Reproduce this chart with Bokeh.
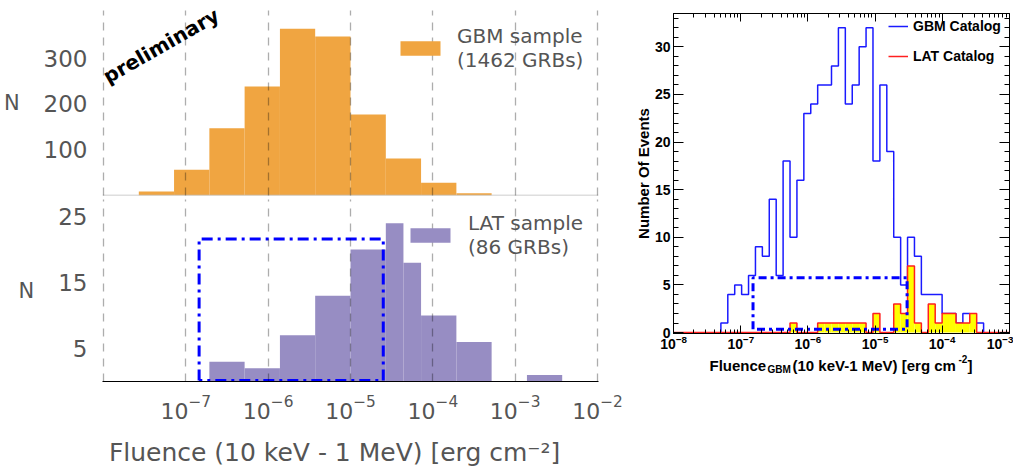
import numpy as np
from bokeh.plotting import figure
from bokeh.layouts import row, column
from bokeh.models import (Range1d, FixedTicker, LinearAxis, LogAxis, Legend, LegendItem,
                          Label, Span, SingleIntervalTicker, CustomJSTickFormatter)
from bokeh.embed import file_html
from bokeh.resources import INLINE

# ---------------- data : left figure ----------------
# log10 bin edges (14 log bins between 1e-8 and 1e-2)
gbm_sample_edges = [-8.0, -7.571, -7.143, -6.714, -6.286, -5.857, -5.429, -5.0,
                    -4.571, -4.143, -3.714, -3.286, -2.857, -2.429, -2.0]
gbm_sample_counts = [0, 9, 56, 147, 238, 364, 347, 177, 81, 28, 5, 0, 0, 0]
lat_sample_edges = [-8.0, -7.571, -7.143, -6.714, -6.286, -5.857, -5.429, -5.0,
                    -4.571, -4.357, -4.143, -3.714, -3.286, -2.857, -2.429, -2.0]
lat_sample_counts = [0, 0, 0, 3, 2, 7, 13, 20, 24, 18, 10, 6, 0, 1, 0]
left_xticks = [1e-7, 1e-6, 1e-5, 1e-4, 1e-3, 1e-2]
left_xgrid = [1e-8, 1e-7, 1e-6, 1e-5, 1e-4, 1e-3, 1e-2]
top_yticks = [100, 200, 300]
bottom_yticks = [5, 15, 25]
box_left_x = [1.45e-7, 2.5e-5]
box_left_y = [0.15, 21.6]

# ---------------- data : right figure ----------------
cat_first_edge = -7.297   # log10 of first bin edge
cat_bin_width = 0.103     # decades per bin
gbm_catalog_counts = [1, 4, 5, 4, 6, 9, 8, 14, 6, 18, 10, 16, 23, 24, 26, 26, 28, 32, 24, 26,
                      30, 32, 18, 26, 19, 10, 5, 10, 8, 4, 4, 4, 2, 2, 1, 2, 1, 1]
lat_catalog_counts = [0, 0, 0, 0, 0, 0, 0, 0, 0, 0, 1, 0, 0, 0, 1, 1, 1, 1, 1, 1,
                      1, 0, 2, 0, 0, 3, 2, 7, 1, 0, 3, 1, 2, 2, 1, 1, 2, 0]
right_xticks = [1e-8, 1e-7, 1e-6, 1e-5, 1e-4, 1e-3]
box_right_x = [1.52e-7, 3.0e-5]
box_right_y = [0.35, 5.75]

ORANGE = "#F0A541"
PURPLE = "#978DC3"
GRAYTXT = "#555555"
FONT = "DejaVu Sans"
RFONT = "Liberation Sans"

xr_left = Range1d(10 ** -8.012, 10 ** -1.988)


def style_left(p, yticks, ylabel):
    p.outline_line_color = None
    p.ygrid.visible = False
    g = p.xgrid[0]
    g.ticker = FixedTicker(ticks=left_xgrid)
    g.grid_line_color = "black"
    g.grid_line_alpha = 0.32
    g.grid_line_dash = "8 7"
    g.grid_line_width = 1.3
    g.level = "overlay"
    ya = p.yaxis[0]
    ya.ticker = FixedTicker(ticks=yticks)
    ya.major_tick_line_color = None
    ya.minor_tick_line_color = None
    ya.axis_line_color = None
    ya.major_label_text_font = FONT
    ya.major_label_text_font_size = "23px"
    ya.major_label_text_color = GRAYTXT
    ya.major_label_standoff = 9
    ya.axis_label = ylabel
    ya.axis_label_text_font = FONT
    ya.axis_label_text_font_style = "normal"
    ya.axis_label_text_font_size = "21px"
    ya.axis_label_text_color = GRAYTXT
    ya.axis_label_standoff = 21
    if "axis_label_orientation" in LinearAxis.properties():
        ya.axis_label_orientation = "horizontal"


# ---------------- top-left panel ----------------
p1 = figure(width=628, height=198, x_axis_type="log", x_range=xr_left,
            y_range=Range1d(0, 404), output_backend="svg", toolbar_location=None,
            min_border_left=100, min_border_right=30, min_border_top=10, min_border_bottom=3)
r_gbm = p1.quad(left=[10 ** e for e in gbm_sample_edges[:-1]],
                right=[10 ** e for e in gbm_sample_edges[1:]],
                bottom=0, top=gbm_sample_counts, fill_color=ORANGE, line_color=None)
style_left(p1, top_yticks, "N")
p1.xaxis.visible = False
p1.add_layout(Span(location=0, dimension="width", line_color="#bdbdbd", line_width=1.5))
leg1 = Legend(items=[LegendItem(label="GBM sample\n(1462 GRBs)", renderers=[r_gbm])],
              location=(293, 123), padding=0, margin=0, glyph_width=50, glyph_height=18,
              label_standoff=12, border_line_color=None, background_fill_alpha=0,
              label_text_font=FONT, label_text_font_size="20px", label_text_color=GRAYTXT)
p1.add_layout(leg1)
p1.add_layout(Label(x=10 ** -7.3, y=327, text="preliminary", angle=0.52,
                    text_align="center", text_baseline="middle", text_font=FONT,
                    text_font_style="bold", text_font_size="20px", text_color="black"))

# ---------------- bottom-left panel ----------------
p2 = figure(width=628, height=272, x_axis_type="log", x_range=xr_left,
            y_range=Range1d(0, 27.6), output_backend="svg", toolbar_location=None,
            min_border_left=100, min_border_right=30, min_border_top=1, min_border_bottom=89)
r_lat = p2.quad(left=[10 ** e for e in lat_sample_edges[:-1]],
                right=[10 ** e for e in lat_sample_edges[1:]],
                bottom=0, top=lat_sample_counts, fill_color=PURPLE, line_color=None)
p2.line(x=[box_left_x[0], box_left_x[0], box_left_x[1], box_left_x[1], box_left_x[0]],
        y=[box_left_y[0], box_left_y[1], box_left_y[1], box_left_y[0], box_left_y[0]],
        line_color="#0000FF", line_width=3, line_dash="11 5 3 5")
style_left(p2, bottom_yticks, "N")
xa = p2.xaxis[0]
xa.ticker = FixedTicker(ticks=left_xticks)
xa.major_tick_line_color = None
xa.minor_tick_line_color = None
xa.axis_line_color = "black"
xa.axis_line_width = 1.2
xa.major_label_text_font = FONT
xa.major_label_text_font_size = "22px"
xa.major_label_text_color = GRAYTXT
xa.major_label_standoff = 7
xa.axis_label = "Fluence (10 keV - 1 MeV) [erg cm\u207b\u00b2]\u00a0\u00a0\u00a0\u00a0"
xa.axis_label_text_font = FONT
xa.axis_label_text_font_style = "normal"
xa.axis_label_text_font_size = "25px"
xa.axis_label_text_color = GRAYTXT
xa.axis_label_standoff = 16
leg2 = Legend(items=[LegendItem(label="LAT sample\n(86 GRBs)", renderers=[r_lat])],
              location=(303, 122), padding=0, margin=0, glyph_width=50, glyph_height=18,
              label_standoff=13, border_line_color=None, background_fill_alpha=0,
              label_text_font=FONT, label_text_font_size="20px", label_text_color=GRAYTXT)
p2.add_layout(leg2)

# ---------------- right panel ----------------
cat_edges = [10 ** (cat_first_edge + cat_bin_width * k) for k in range(len(gbm_catalog_counts) + 1)]


def step_path(edges, counts):
    xs, ys = [edges[0]], [0]
    for i, c in enumerate(counts):
        xs += [edges[i], edges[i + 1]]
        ys += [c, c]
    xs.append(edges[-1])
    ys.append(0)
    return xs, ys


p3 = figure(width=385, height=352, x_axis_type="log",
            x_range=Range1d(10 ** -8.003, 10 ** -2.997), y_range=Range1d(-0.1, 33.5),
            output_backend="svg", toolbar_location=None,
            min_border_left=45, min_border_right=4, min_border_top=13, min_border_bottom=19)
p3.outline_line_color = "black"
p3.xgrid.visible = False
p3.ygrid.visible = False

gx, gy = step_path(cat_edges, gbm_catalog_counts)
r_gline = p3.line(x=gx, y=gy, line_color="#1a1aff", line_width=1.5)
lat_l = [cat_edges[i] for i, c in enumerate(lat_catalog_counts) if c > 0]
lat_r = [cat_edges[i + 1] for i, c in enumerate(lat_catalog_counts) if c > 0]
lat_t = [c for c in lat_catalog_counts if c > 0]
p3.quad(left=lat_l, right=lat_r, bottom=0, top=lat_t, fill_color="#FFFF00", line_color=None)
lx, ly = step_path(cat_edges, lat_catalog_counts)
lx = [right_xticks[0]] + lx + [right_xticks[-1]]
ly = [0] + ly + [0]
r_lline = p3.line(x=lx, y=ly, line_color="#FF2020", line_width=1.5)
p3.line(x=[box_right_x[0], box_right_x[0], box_right_x[1], box_right_x[1], box_right_x[0]],
        y=[box_right_y[0], box_right_y[1], box_right_y[1], box_right_y[0], box_right_y[0]],
        line_color="#0000FF", line_width=3, line_dash="8 4 3 4")

minor_log = [m * 10 ** k for k in range(-8, -3) for m in range(2, 10)]
empty_fmt = CustomJSTickFormatter(code="return ''")


def tick_style(ax, major, minor):
    ax.major_tick_in = major
    ax.major_tick_out = 0
    ax.minor_tick_in = minor
    ax.minor_tick_out = 0
    ax.major_tick_line_color = "black"
    ax.minor_tick_line_color = "black"
    ax.axis_line_color = "black"


xb = p3.xaxis[0]
xb.ticker = FixedTicker(ticks=right_xticks, minor_ticks=minor_log)
tick_style(xb, 8, 4)
xb.major_label_text_font = RFONT
xb.major_label_text_font_style = "bold"
xb.major_label_text_font_size = "14px"
xb.major_label_text_color = "black"
xb.major_label_standoff = 1

yl = p3.yaxis[0]
yl.ticker = SingleIntervalTicker(interval=5, num_minor_ticks=5)
tick_style(yl, 10, 5)
yl.major_label_text_font = RFONT
yl.major_label_text_font_style = "bold"
yl.major_label_text_font_size = "14px"
yl.major_label_text_color = "black"
yl.major_label_standoff = 3
yl.axis_label = "Number Of Events"
yl.axis_label_text_font = RFONT
yl.axis_label_text_font_style = "bold"
yl.axis_label_text_font_size = "15px"
yl.axis_label_text_color = "black"
yl.axis_label_standoff = 0

ax_top = LogAxis(ticker=FixedTicker(ticks=right_xticks, minor_ticks=minor_log),
                 formatter=empty_fmt, major_label_text_font_size="0px", major_label_standoff=0)
tick_style(ax_top, 8, 4)
p3.add_layout(ax_top, "above")
ax_right = LinearAxis(ticker=SingleIntervalTicker(interval=5, num_minor_ticks=5),
                      formatter=empty_fmt, major_label_text_font_size="0px", major_label_standoff=0)
tick_style(ax_right, 10, 5)
p3.add_layout(ax_right, "right")

leg3 = Legend(items=[LegendItem(label="GBM Catalog", renderers=[r_gline]),
                     LegendItem(label="LAT Catalog", renderers=[r_lline])],
              location=(215, 267), padding=0, margin=0, glyph_width=20, glyph_height=20,
              label_height=20, spacing=10, label_standoff=5, border_line_color=None,
              background_fill_alpha=0, label_text_font=RFONT, label_text_font_style="bold",
              label_text_font_size="14px", label_text_color="black")
p3.add_layout(leg3)

# ---------------- right x-axis title (with sub/superscript) in a strip below ----------------
# the strip's frame is aligned with the panel frame above; its x range is in canvas pixels
p4 = figure(width=385, height=116, x_range=Range1d(45, 381), y_range=Range1d(116, 0),
            output_backend="svg", toolbar_location=None,
            x_axis_location=None, y_axis_location=None,
            min_border_left=45, min_border_right=4, min_border_top=0, min_border_bottom=0)
p4.grid.visible = False
p4.outline_line_color = None
title_parts = [("Fluence", 81, 13, "15px"), ("GBM", 139, 17, "10px"),
               ("(10 keV-1 MeV) [erg cm", 164, 13, "15px"), ("-2", 330, 6, "10px"),
               ("]", 339, 13, "15px")]
for txt, tx, ty, fs in title_parts:
    p4.add_layout(Label(x=tx, y=ty, text=txt, text_font=RFONT,
                        text_font_style="bold", text_font_size=fs, text_color="black",
                        text_align="left", text_baseline="alphabetic"))

layout = row(column(p1, p2), column(p3, p4))
open("out.html", "w").write(file_html(layout, INLINE))
